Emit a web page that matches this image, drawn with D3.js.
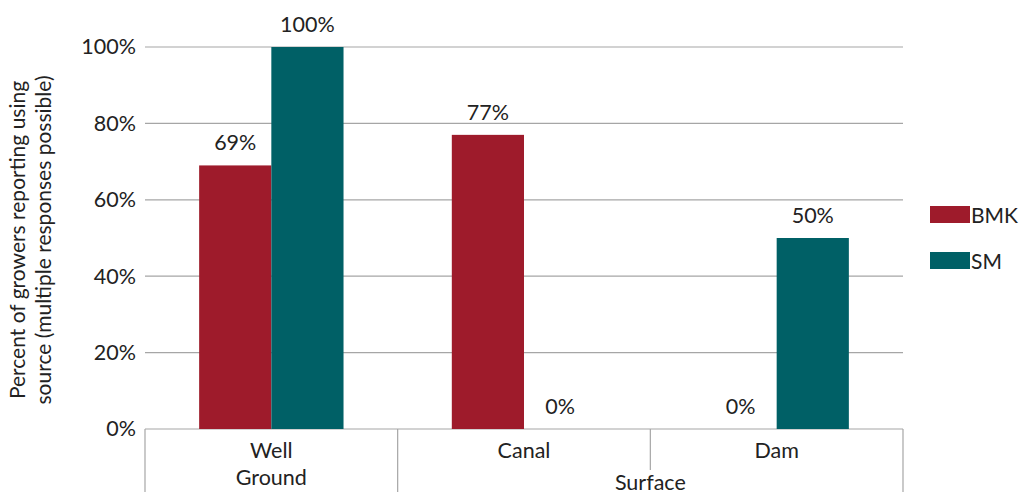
<!DOCTYPE html>
<html><head><meta charset="utf-8">
<script src="https://cdn.jsdelivr.net/npm/d3@7"></script>
<style>body{margin:0;background:#fff}svg{font-family:Lato,"Open Sans",sans-serif}</style>
</head><body><svg id="c" width="1025" height="495"></svg>
<script>
const categories = ["Well","Canal","Dam"];
const groups = ["Ground","Surface","Surface"];
const seriesNames = ["BMK","SM"];
const bmk = [69,77,0];
const sm = [100,0,50];
const yTicks = [0,20,40,60,80,100];
const colors = ["#9e1b2b","#006066"];

const svg = d3.select("#c");
const L=145,R=903,T=47,B=429;
const FS=21.5;
const x = d3.scaleBand().domain(categories).range([L,R]).paddingInner(0).paddingOuter(0);
const xs = d3.scaleBand().domain(seriesNames).range([0,x.bandwidth()]).paddingInner(0).paddingOuter(0.75);
const y = d3.scaleLinear().domain([0,100]).range([B,T]);

// grid
svg.append("g").selectAll("line").data(yTicks).join("line")
 .attr("x1",L).attr("x2",R).attr("y1",d=>y(d)).attr("y2",d=>y(d))
 .attr("stroke","#a6a6a6").attr("stroke-width",1.2);

const yAxis = svg.append("g").attr("transform",`translate(${L},0)`)
 .call(d3.axisLeft(y).tickValues(yTicks).tickFormat(d=>d+"%").tickSize(0).tickPadding(9));
yAxis.select(".domain").remove();
yAxis.selectAll("text").attr("font-size",FS).attr("fill","#222").attr("font-family","Lato,sans-serif");

const data = categories.map((c,i)=>({c, vals:[bmk[i],sm[i]]}));
const g = svg.append("g");
data.forEach(d=>{
  d.vals.forEach((v,j)=>{
    const xx = x(d.c)+xs(seriesNames[j]);
    g.append("rect").attr("x",xx).attr("width",xs.bandwidth()).attr("y",y(v)).attr("height",B-y(v)).attr("fill",colors[j]);
    g.append("text").attr("x",xx+xs.bandwidth()/2).attr("y",y(v)-15).attr("text-anchor","middle")
     .attr("font-size",FS).attr("fill","#222").text(v+"%");
  });
});

// category separators
const sep = svg.append("g").attr("stroke","#a6a6a6").attr("stroke-width",1.2);
sep.append("line").attr("x1",L).attr("x2",L).attr("y1",B).attr("y2",492);
sep.append("line").attr("x1",x("Canal")).attr("x2",x("Canal")).attr("y1",B).attr("y2",492);
sep.append("line").attr("x1",x("Dam")).attr("x2",x("Dam")).attr("y1",B).attr("y2",470);
sep.append("line").attr("x1",R).attr("x2",R).attr("y1",B).attr("y2",492);

svg.append("g").selectAll("text").data(categories).join("text")
 .attr("x",d=>x(d)+x.bandwidth()/2).attr("y",458).attr("text-anchor","middle")
 .attr("font-size",FS).attr("fill","#222").text(d=>d);
svg.append("text").attr("x",x("Well")+x.bandwidth()/2).attr("y",485).attr("text-anchor","middle").attr("font-size",FS).attr("fill","#222").text(groups[0]);
svg.append("text").attr("x",(x("Canal")+R)/2).attr("y",490).attr("text-anchor","middle").attr("font-size",FS).attr("fill","#222").text(groups[1]);

// y title
const yt = svg.append("text").attr("transform","translate(0,240) rotate(-90)").attr("text-anchor","middle").attr("font-size",21).attr("fill","#222");
yt.append("tspan").attr("x",0).attr("y",25).text("Percent of growers reporting using");
yt.append("tspan").attr("x",0).attr("y",51).text("source (multiple responses possible)");

// legend
const lg = svg.append("g");
seriesNames.forEach((s,i)=>{
  const yy = 206+i*46;
  lg.append("rect").attr("x",930).attr("y",yy).attr("width",40).attr("height",17).attr("fill",colors[i]);
  lg.append("text").attr("x",971).attr("y",yy+17).attr("font-size",21).attr("fill","#222").text(s);
});
</script></body></html>
